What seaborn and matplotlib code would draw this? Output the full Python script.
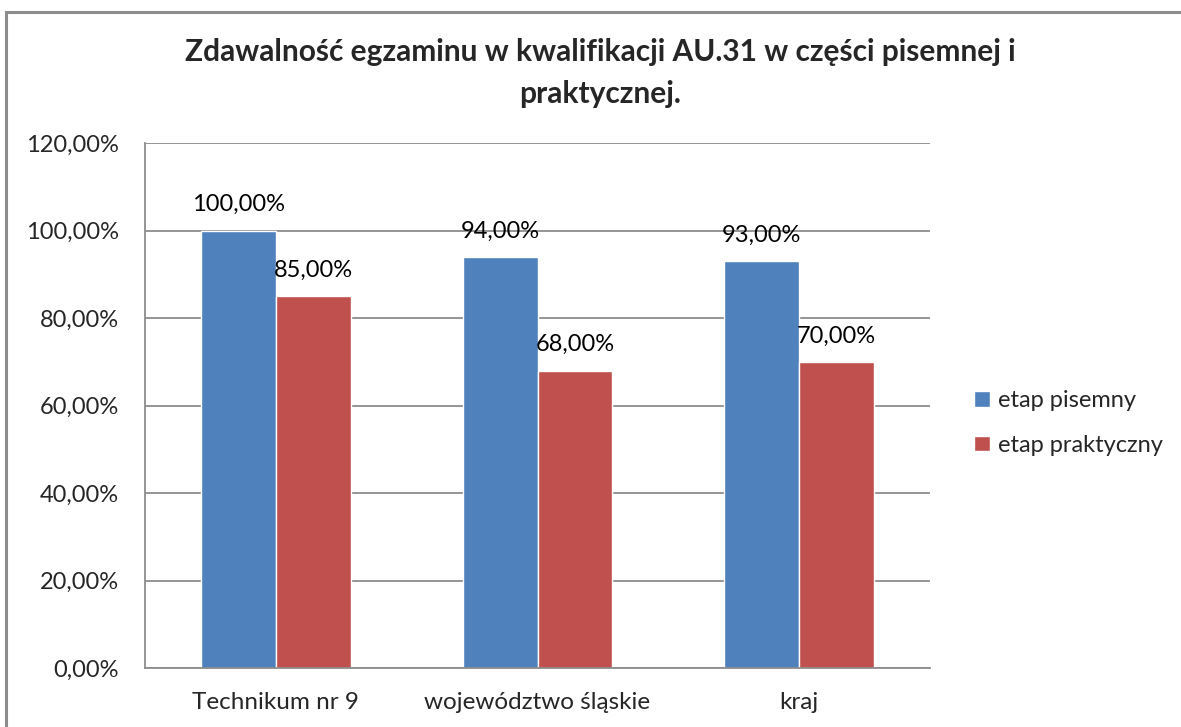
import matplotlib
matplotlib.use("Agg")
import matplotlib.pyplot as plt
import seaborn as sns
import pandas as pd
from matplotlib.ticker import FuncFormatter, MultipleLocator
from matplotlib.patches import Rectangle

# data
categories = ["Technikum nr 9", "województwo śląskie", "kraj"]
series = ["etap pisemny", "etap praktyczny"]
pisemny = [100.0, 94.0, 93.0]
praktyczny = [85.0, 68.0, 70.0]

title = "Zdawalność egzaminu w kwalifikacji AU.31 w części pisemnej i\npraktycznej."
colors = ["#4F81BD", "#C0504D"]

df = pd.DataFrame({
    "kategoria": categories * 2,
    "etap": [series[0]] * 3 + [series[1]] * 3,
    "wynik": pisemny + praktyczny,
})

sns.set_theme(style="white")
plt.rcParams["font.family"] = ["Lato", "DejaVu Sans"]

fig = plt.figure(figsize=(11.81, 7.27), dpi=100)
ax = fig.add_axes([145 / 1181, 1 - 668 / 727, 785 / 1181, 525 / 727])

sns.barplot(data=df, x="kategoria", y="wynik", hue="etap", palette=colors,
            width=0.573, gap=0, saturation=1, ax=ax, legend=True)

# value labels above bars, Polish decimal comma
for cont in ax.containers:
    ax.bar_label(cont, labels=[("%.2f%%" % v).replace(".", ",") for v in cont.datavalues],
                 label_type="edge", padding=11, fontsize=17, color="black")

ax.set_ylim(0, 120)
ax.set_xlim(-0.5, 2.5)
ax.yaxis.set_major_locator(MultipleLocator(20))
ax.yaxis.set_major_formatter(FuncFormatter(lambda v, p: ("%.2f%%" % v).replace(".", ",")))
ax.grid(axis="y", color="#8c8c8c", lw=1.3)
ax.set_axisbelow(True)
for s in ["top", "right"]:
    ax.spines[s].set_visible(False)
for s in ["left", "bottom"]:
    ax.spines[s].set_color("#8c8c8c")
    ax.spines[s].set_linewidth(1.3)
ax.tick_params(axis="y", length=0, labelsize=17, pad=19)
ax.tick_params(axis="x", length=0, labelsize=17.5, pad=17)
ax.set_xlabel("")
ax.set_ylabel("")

leg = ax.legend(loc="center left", bbox_to_anchor=(965 / 1181, 1 - 423 / 727),
                bbox_transform=fig.transFigure, frameon=False, fontsize=17,
                handlelength=0.65, handleheight=0.65, handletextpad=0.35,
                labelspacing=1.0, borderaxespad=0)

fig.text(600 / 1181, 1 - 73 / 727, title, ha="center", va="center",
         fontsize=21.5, fontweight="bold", linespacing=1.6)

# outer chart frame (cut by the image edge)
fig.patches.append(Rectangle((6 / 1181, -0.1), 1.2, 1 - 12 / 727 + 0.1,
                             transform=fig.transFigure, fill=False,
                             edgecolor="#8c8c8c", lw=2.2))

fig.savefig("out.png", dpi=100)
